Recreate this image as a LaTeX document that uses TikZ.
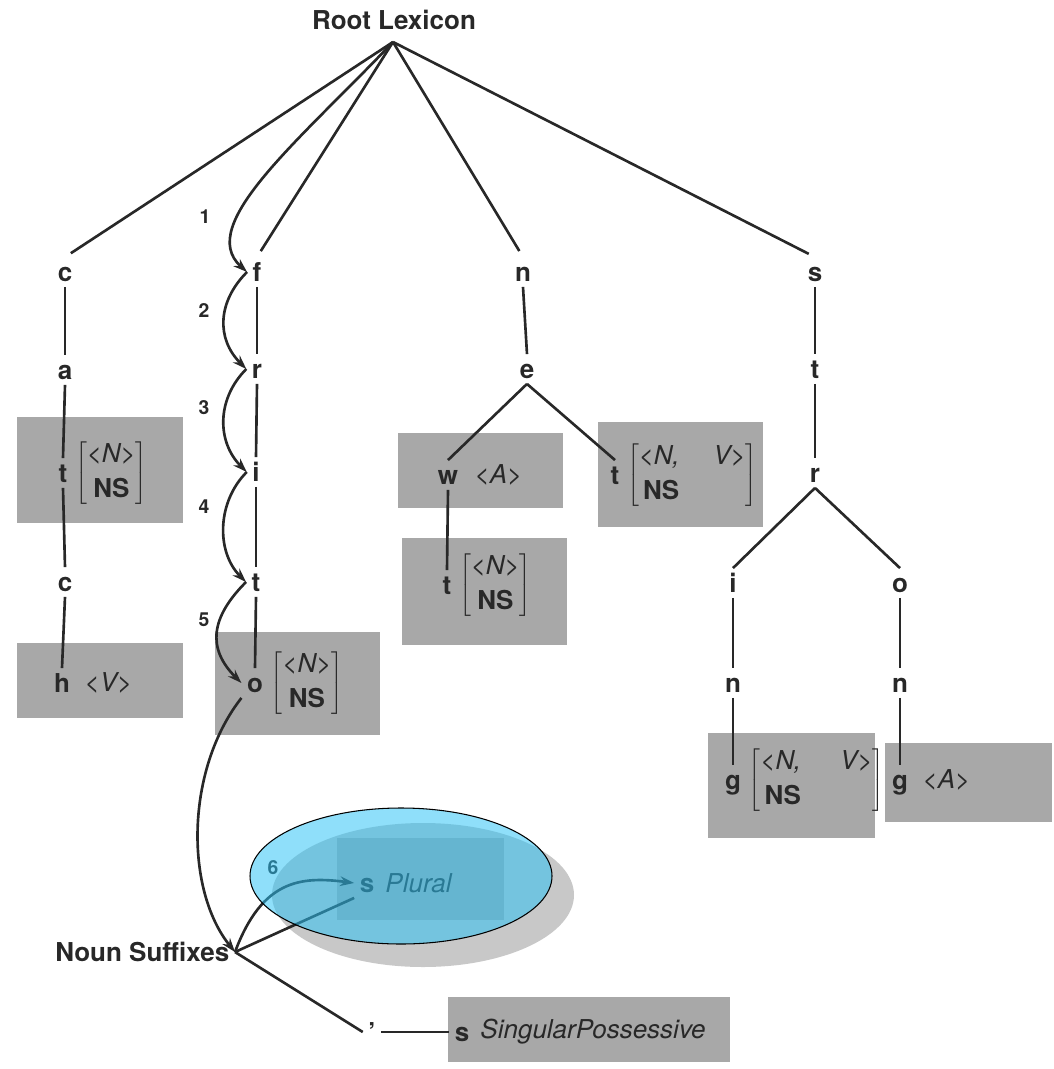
\documentclass[tikz,border=0pt]{standalone}
\usepackage{fontspec}
\setmainfont{TeX Gyre Heros}
\usetikzlibrary{arrows.meta}
\definecolor{ink}{RGB}{40,40,40}
\definecolor{boxgray}{RGB}{168,168,168}
\definecolor{shadowgray}{RGB}{200,200,200}
\definecolor{hilite}{RGB}{43,194,245}
\newcommand{\synt}[1]{\textit{\mdseries <#1>}}
\newcommand{\featbr}[2][c]{$\left[\renewcommand{\arraystretch}{1.1}\begin{tabular}{@{}#1@{}}#2\end{tabular}\right]$}

\begin{document}
\begin{tikzpicture}[x=0.02cm, y=-0.02cm,
    font=\fontsize{14.8}{18}\selectfont\bfseries, color=ink,
    lt/.style={inner sep=3pt, text height=10.6pt, text depth=0pt},
    feat/.style={anchor=west, inner sep=1pt},
    num/.style={font=\fontsize{11}{13}\selectfont\bfseries},
    link/.style={line width=1.5pt},
    arr/.style={line width=1.5pt, -{Stealth[length=8pt, width=5.5pt]}}
]
\useasboundingbox (0,0) rectangle (1054,1069);

\fill[boxgray] (17,417) rectangle (183,523);
\fill[boxgray] (17,643) rectangle (183,718);
\fill[boxgray] (215,632) rectangle (380,735);
\fill[boxgray] (398,433) rectangle (563,508);
\fill[boxgray] (402,538) rectangle (567,645);
\fill[boxgray] (598,422) rectangle (763,527);
\fill[boxgray] (708,733) rectangle (875,838);
\fill[boxgray] (885,743) rectangle (1052,822);
\fill[shadowgray] (423,895) ellipse [x radius=151, y radius=72];
\fill[boxgray] (337,838) rectangle (504,920);
\fill[boxgray] (448,997) rectangle (730,1062);

\node[lt] (root) at (394,20) {Root Lexicon};
\coordinate (apex) at (393,42);

\node[lt] (c1) at (65,272) {c};
\node[lt] (a1) at (65,370) {a};
\node[lt] (t1) at (63,473) {t};
\node[lt] (c2) at (65,582) {c};
\node[lt] (h2) at (62,683) {h};
\node[feat] (t1f) at (t1.east) {\featbr{\synt{N}\\NS}};
\node[feat, inner sep=5pt] (h2f) at (h2.east) {\synt{V}};

\node[lt] (f1) at (257,272) {f};
\node[lt] (r1) at (257,369) {r};
\node[lt] (i1) at (256,472) {i};
\node[lt] (t3) at (256,582) {t};
\node[lt] (o1) at (255,683) {o};
\node[feat] (o1f) at (o1.east) {\featbr{\synt{N}\\NS}};

\node[lt] (n1) at (523,272) {n};
\node[lt] (e1) at (527,369) {e};
\node[lt] (w1) at (448,475) {w};
\node[feat, inner sep=6pt] (w1f) at (w1.east) {\synt{A}};
\node[lt] (t4) at (447,585) {t};
\node[feat] (t4f) at (t4.east) {\featbr{\synt{N}\\NS}};
\node[lt] (t5) at (615,475) {t};
\node[feat] (t5f) at (t5.east) {\featbr[l]{\synt{N,\hspace{1.3em}V}\\ \,NS}};

\node[lt] (s1) at (815,272) {s};
\node[lt] (t6) at (815,369) {t};
\node[lt] (r2) at (815,473) {r};
\node[lt] (i2) at (733,583) {i};
\node[lt] (o2) at (900,583) {o};
\node[lt] (n2) at (733,683) {n};
\node[lt] (n3) at (900,683) {n};
\node[lt] (g1) at (733,780) {g};
\node[lt] (g2) at (900,780) {g};
\node[feat] (g1f) at (g1.east) {\featbr[l]{\synt{N,\hspace{1.5em}V}\\ \,NS}};
\node[feat, inner sep=5pt] (g2f) at (g2.east) {\synt{A}};

\node[lt, anchor=east] (nsfx) at (235,952) {Noun Suffixes};
\node[lt] (s2) at (367,883) {s};
\node[feat, inner sep=3pt] (s2f) at (s2.east) {\textit{\mdseries Plural}};
\node[lt] (apos) at (372,1032) {'};
\node[lt] (s3) at (462,1032) {s};
\node[feat, inner sep=3pt] (s3f) at (s3.east) {\textit{\mdseries SingularPossessive}};

\node[num] (k1) at (205,217) {1};
\node[num] (k2) at (204,310) {2};
\node[num] (k3) at (204,408) {3};
\node[num] (k4) at (204,507) {4};
\node[num] (k5) at (204,620) {5};
\node[num] (k6) at (273,868) {6};

\foreach \x in {c1,f1,n1,s1}
  \draw[link, shorten >=4pt] (apex) -- (\x.north);
\foreach \u/\v in {c1/a1, a1/t1, t1/c2, c2/h2, f1/r1, r1/i1, i1/t3, t3/o1,
    n1/e1, e1/w1, e1/t5, w1/t4, s1/t6, t6/r2, r2/i2, r2/o2, i2/n2, o2/n3, n2/g1, n3/g2}
  \draw[link] (\u.south) -- (\v.north);

\draw[arr] (apex) .. controls (300,140) and (195,225) .. (f1.west);
\foreach \u/\v in {f1/r1, r1/i1, i1/t3}
  \draw[arr] (\u.west) .. controls +(-30,30) and +(-30,-30) .. (\v.west);
\draw[arr] (t3.west) .. controls +(-35,35) and +(-35,-35) .. (o1.west);

\draw[arr] (o1.south west) .. controls (185,770) and (185,890) .. (nsfx.east);
\draw[arr] (nsfx.east) .. controls (262,880) and (300,876) .. (s2.west);
\draw[link] (nsfx.east) -- (s2.south west);
\draw[link] (nsfx.east) -- (apos.west);
\draw[link] (apos.east) -- (s3.west);

\draw[black, line width=0.6pt, fill=hilite, fill opacity=0.53] (401,876) ellipse [x radius=151, y radius=68];
\end{tikzpicture}
\end{document}
